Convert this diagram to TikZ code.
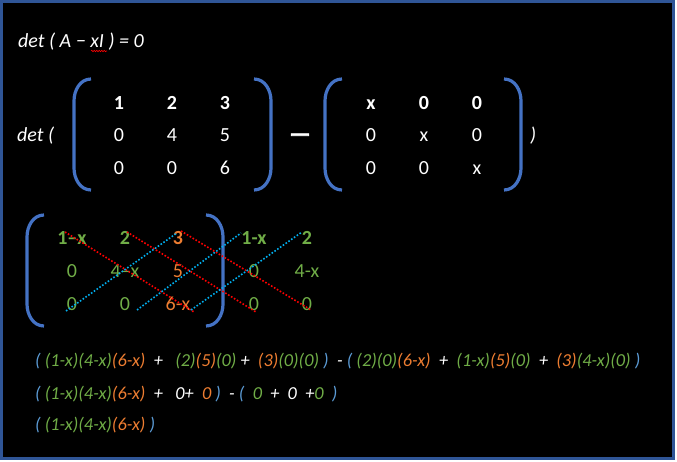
\documentclass[tikz,border=0pt]{standalone}
\usepackage{fontspec}
\setmainfont{Carlito}
\usetikzlibrary{calc, decorations.pathmorphing}
\definecolor{frameblue}{HTML}{2F5597}
\definecolor{brkblue}{HTML}{4472C4}
\definecolor{eqblue}{HTML}{5B9BD5}
\definecolor{eqgreen}{HTML}{70AD47}
\definecolor{eqorange}{HTML}{ED7D31}
\definecolor{dotred}{HTML}{FF0000}
\definecolor{dotcyan}{HTML}{00B0F0}
\tikzstyle{entry} = [text=white, font=\fontsize{20}{24}\selectfont,
text height=13pt, text depth=0pt, inner sep=0pt]
\tikzstyle{hdr} = [entry, font=\fontsize{20}{24}\selectfont\bfseries]
\tikzstyle{gcell} = [entry, text=eqgreen]
\tikzstyle{ocell} = [entry, text=eqorange]
\tikzstyle{gbold} = [hdr, text=eqgreen]
\tikzstyle{obold} = [hdr, text=eqorange]
\tikzstyle{detlabel} = [text=white, font=\fontsize{20}{24}\selectfont\itshape,
anchor=base west, inner sep=0pt]
\tikzstyle{eq} = [text=white, font=\fontsize{18.3}{22}\selectfont\itshape,
anchor=base west, inner sep=0pt]
\tikzstyle{brk} = [brkblue, line width=3.2pt]
\tikzstyle{diagred} = [dotred, line width=1.6pt, dash pattern=on 1.6pt off 1.8pt]
\tikzstyle{diagcyan} = [dotcyan, line width=1.6pt, dash pattern=on 1.6pt off 1.8pt]
\newcommand{\brkL}[3]{\draw[brk] ({#1+17},#2) to[out=180,in=90] (#1,{#2+22}) -- (#1,{#3-22}) to[out=-90,in=180] ({#1+17},#3);}
\newcommand{\brkR}[3]{\draw[brk] ({#1-17},#2) to[out=0,in=90] (#1,{#2+22}) -- (#1,{#3-22}) to[out=-90,in=0] ({#1-17},#3);}
\newcommand{\grn}[1]{\textcolor{eqgreen}{#1}}
\newcommand{\org}[1]{\textcolor{eqorange}{#1}}
\newcommand{\blu}[1]{\textcolor{eqblue}{#1}}
\begin{document}
\begin{tikzpicture}[x=1pt, y=-1pt, node distance=53pt]
\fill[white] (0,0) rectangle (677,462);
\draw[frameblue, line width=3pt, fill=black] (1.5,1.5) rectangle (673.5,458.5);
% det ( A - xI ) = 0
\node (title)[detlabel] at (18,48) {det ( A − xI ) = 0};
\draw[dotred, line width=0.6pt, decorate, decoration={snake, amplitude=0.7pt, segment length=2.5pt}]
  ($(title.base west)+(73,3)$) -- ++(16,0);
\node (det)[detlabel] at (17,142) {det (};
% first matrix
\brkL{74}{79}{190}
\brkR{271}{79}{190}
\node (m11)[hdr] at (119,103) {1};
\node (m12)[hdr, right of=m11] {2};
\node (m13)[hdr, right of=m12] {3};
\node (m21)[entry, below of=m11, yshift=20.5pt] {0};
\node (m22)[entry, right of=m21] {4};
\node (m23)[entry, right of=m22] {5};
\node (m31)[entry, below of=m21, yshift=20.5pt] {0};
\node (m32)[entry, right of=m31] {0};
\node (m33)[entry, right of=m32] {6};
\node (minus)[hdr, font=\fontsize{24}{28}\selectfont\bfseries\addfontfeatures{FakeBold=2.5}] at (300,135) {—};
% second matrix
\brkL{325}{79}{190}
\brkR{521}{79}{190}
\node (n11)[hdr] at (371,103) {x};
\node (n12)[hdr, right of=n11] {0};
\node (n13)[hdr, right of=n12] {0};
\node (n21)[entry, below of=n11, yshift=20.5pt] {0};
\node (n22)[entry, right of=n21] {x};
\node (n23)[entry, right of=n22] {0};
\node (n31)[entry, below of=n21, yshift=20.5pt] {0};
\node (n32)[entry, right of=n31] {0};
\node (n33)[entry, right of=n32] {x};
\node (close)[detlabel] at (530,142) {)};
% augmented matrix
\brkL{27}{215}{326}
\brkR{223}{215}{326}
\node (a11)[gbold] at (72,238) {1–x};
\node (a12)[gbold, right of=a11] {2};
\node (a13)[obold, right of=a12] {3};
\node (a14)[gbold, right of=a13, xshift=23pt] {1-x};
\node (a15)[gbold, right of=a14] {2};
\node (a21)[gcell, below of=a11, yshift=20pt] {0};
\node (a22)[gcell, right of=a21] {4–x};
\node (a23)[ocell, right of=a22] {5};
\node (a24)[gcell, right of=a23, xshift=23pt] {0};
\node (a25)[gcell, right of=a24] {4-x};
\node (a31)[gcell, below of=a21, yshift=20pt] {0};
\node (a32)[gcell, right of=a31] {0};
\node (a33)[ocell, right of=a32] {6-x};
\node (a34)[gcell, right of=a33, xshift=23pt] {0};
\node (a35)[gcell, right of=a34] {0};
\draw[diagred] ($(a11)+(-7,-6)$) -- ($(a33)+(16,8)$);
\draw[diagred] ($(a12)+(2,-6)$) -- ($(a34)+(2,8)$);
\draw[diagred] ($(a13)+(3,-7)$) -- ($(a35)+(4,6)$);
\draw[diagcyan] ($(a31)+(-6,7)$) -- ($(a13)+(-1,-5)$);
\draw[diagcyan] ($(a32)+(12,6)$) -- ($(a14)+(-13,-5)$);
\draw[diagcyan] ($(a33)+(13,6)$) -- ($(a15)+(-5,-6)$);
% expansion
\node (eq1)[eq] at (35,366) {\blu{(}\ \grn{(1-x)(4-x)}\org{(6-x)}\ \ +\ \ \ \grn{(2)}\org{(5)}\grn{(0)}\ +\ \ \org{(3)}\grn{(0)(0)}\ \blu{)}\ \ -\ \blu{(}\ \grn{(2)(0)}\org{(6-x)}\ \ +\ \ \grn{(1-x)}\org{(5)}\grn{(0)}\ \ +\ \ \org{(3)}\grn{(4-x)(0)}\ \blu{)}};
\node (eq2)[eq] at (35,399) {\blu{(}\ \grn{(1-x)(4-x)}\org{(6-x)}\ \ +\ \ \ 0+\ \ \org{0}\ \blu{)}\ \ -\ \blu{(}\ \ \grn{0}\ \ +\ \ 0\ \ +\grn{0}\ \ \blu{)}};
\node (eq3)[eq] at (35,430) {\blu{(}\ \grn{(1-x)(4-x)}\org{(6-x)}\ \blu{)}};
\end{tikzpicture}
\end{document}
